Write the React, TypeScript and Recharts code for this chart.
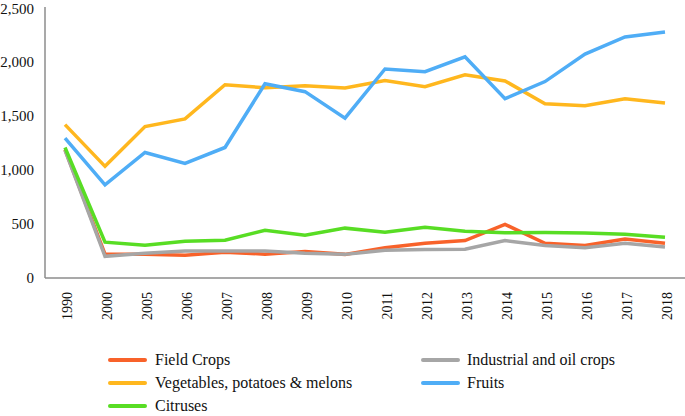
import React from "react";
import { LineChart, Line, XAxis, YAxis, Legend } from "recharts";

const years = ["1990","2000","2005","2006","2007","2008","2009","2010","2011","2012","2013","2014","2015","2016","2017","2018"];
const fieldCrops = [1185,220,218,210,238,220,245,218,280,320,345,495,320,300,360,320];
const industrialOil = [1180,200,228,248,248,250,228,218,255,262,265,345,300,280,320,285];
const vegetables = [1415,1030,1397,1468,1783,1755,1774,1752,1822,1765,1875,1818,1608,1590,1654,1615];
const fruits = [1290,860,1158,1057,1204,1792,1719,1475,1928,1903,2040,1654,1812,2065,2224,2270];
const citruses = [1204,331,303,340,348,440,395,460,423,469,432,418,420,415,404,377];
const yTicks = [0,500,1000,1500,2000,2500];

const seriesInfo = [
  { key: "field", name: "Field Crops", color: "#F8622A", values: fieldCrops },
  { key: "industrial", name: "Industrial and oil crops", color: "#A6A6A6", values: industrialOil },
  { key: "veg", name: "Vegetables, potatoes & melons", color: "#FFB71E", values: vegetables },
  { key: "fruits", name: "Fruits", color: "#4FADF6", values: fruits },
  { key: "citrus", name: "Citruses", color: "#58DD24", values: citruses },
];

const data = years.map((y, i) => {
  const row: any = { year: y };
  seriesInfo.forEach((s) => { row[s.key] = s.values[i]; });
  return row;
});

const FONT = '"Liberation Serif", "Times New Roman", serif';

const XTick = (props: any) => {
  const { x, payload } = props;
  return (
    <text
      transform={`translate(${x + 6.5},292) rotate(-90)`}
      textAnchor="end"
      fontFamily={FONT}
      fontSize={14}
      fill="#111"
    >
      {payload.value}
    </text>
  );
};

const legendPos = [
  { sx: 108, tx: 155, y: 11 },
  { sx: 421, tx: 467, y: 11 },
  { sx: 108, tx: 155, y: 34 },
  { sx: 421, tx: 467, y: 34 },
  { sx: 108, tx: 155, y: 57 },
];

const LegendContent = () => (
  <div style={{ position: "relative", width: 685, height: 67, fontFamily: FONT, fontSize: 16, color: "#111" }}>
    {seriesInfo.map((s, i) => {
      const p = legendPos[i];
      return (
        <React.Fragment key={s.key}>
          <div style={{ position: "absolute", left: p.sx, top: p.y - 2, width: 39, height: 4, borderRadius: 2, background: s.color }} />
          <div style={{ position: "absolute", left: p.tx, top: p.y - 10, lineHeight: "20px", whiteSpace: "nowrap" }}>{s.name}</div>
        </React.Fragment>
      );
    })}
  </div>
);

export default function App() {
  return (
    <div style={{ position: "absolute", left: 0, top: 0, width: 685, height: 416, background: "#fff" }}>
      <LineChart width={685} height={416} data={data} margin={{ top: 7, right: 0, left: 0, bottom: 0 }}>
        <XAxis
          dataKey="year"
          height={138}
          interval={0}
          padding={{ left: 20, right: 20 }}
          tickLine={false}
          tick={<XTick />}
          axisLine={{ stroke: "#8C8C8C", strokeWidth: 1.5 }}
        />
        <YAxis
          width={45}
          domain={[0, 2500]}
          ticks={yTicks}
          tickLine={false}
          tickSize={0}
          tickMargin={11}
          axisLine={{ stroke: "#8C8C8C", strokeWidth: 1.5 }}
          tick={{ fontFamily: FONT, fontSize: 15, fill: "#111" }}
          tickFormatter={(v: number) => v.toLocaleString("en-US")}
        />
        <Legend
          layout="horizontal"
          verticalAlign="middle"
          align="center"
          wrapperStyle={{ top: 349, left: 0, width: 685, height: 67 }}
          content={<LegendContent />}
        />
        {seriesInfo.map((s) => (
          <Line
            key={s.key}
            type="linear"
            dataKey={s.key}
            name={s.name}
            stroke={s.color}
            strokeWidth={3.5}
            dot={false}
            activeDot={false}
            isAnimationActive={false}
          />
        ))}
      </LineChart>
    </div>
  );
}
